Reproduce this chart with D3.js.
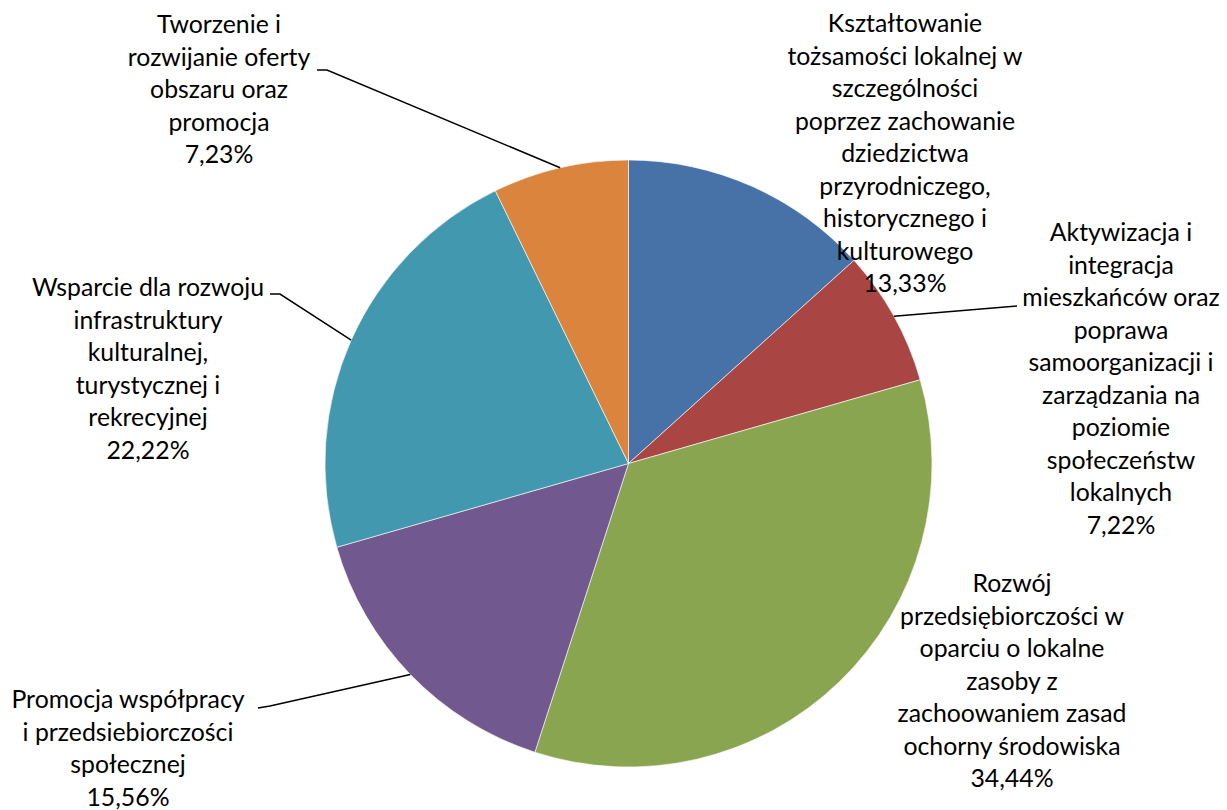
<!DOCTYPE html>
<html>
<head>
<meta charset="utf-8">
<script src="https://cdn.jsdelivr.net/npm/d3@7"></script>
<style>
  body { margin: 0; background: #fff; }
  text { font-family: Lato, "Open Sans", sans-serif; fill: #000; }
</style>
</head>
<body>
<div id="chart"></div>
<script>
// data
var categories = [
  "Kształtowanie tożsamości lokalnej w szczególności poprzez zachowanie dziedzictwa przyrodniczego, historycznego i kulturowego",
  "Aktywizacja i integracja mieszkańców oraz poprawa samoorganizacji i zarządzania na poziomie społeczeństw lokalnych",
  "Rozwój przedsiębiorczości w oparciu o lokalne zasoby z zachoowaniem zasad ochorny środowiska",
  "Promocja współpracy i przedsiebiorczości społecznej",
  "Wsparcie dla rozwoju infrastruktury kulturalnej, turystycznej i rekrecyjnej",
  "Tworzenie i rozwijanie oferty obszaru oraz promocja"
];
var values = [13.33, 7.22, 34.44, 15.56, 22.22, 7.23];
var valueLabels = ["13,33%", "7,22%", "34,44%", "15,56%", "22,22%", "7,23%"];
// label text as wrapped in the chart
var labelLines = [
  ["Kształtowanie", "tożsamości lokalnej w", "szczególności", "poprzez zachowanie", "dziedzictwa", "przyrodniczego,", "historycznego i", "kulturowego"],
  ["Aktywizacja i", "integracja", "mieszkańców oraz", "poprawa", "samoorganizacji i", "zarządzania na", "poziomie", "społeczeństw", "lokalnych"],
  ["Rozwój", "przedsiębiorczości w", "oparciu o lokalne", "zasoby z", "zachoowaniem zasad", "ochorny środowiska"],
  ["Promocja współpracy", "i przedsiebiorczości", "społecznej"],
  ["Wsparcie dla rozwoju", "infrastruktury", "kulturalnej,", "turystycznej i", "rekrecyjnej"],
  ["Tworzenie i", "rozwijanie oferty", "obszaru oraz", "promocja"]
];
var colors = ["#4672A7", "#A94643", "#8AA54F", "#71598F", "#4298AF", "#DA843E"];

// layout
var svgWidth = 1227, svgHeight = 810;
var cx = 628.5, cy = 463.5, radius = 303.5;
var lineH = 32.5, fontSize = 24.8;
// label block centre x and first line centre y
var labelPos = [
  {x: 905, y: 24},
  {x: 1121, y: 233},
  {x: 1012, y: 584},
  {x: 128, y: 700},
  {x: 148, y: 288},
  {x: 219, y: 25}
];
// leader lines: elbow and end points (null = no leader)
var leaders = [
  null,
  [[1017, 306]],
  null,
  [[270, 706], [258, 708]],
  [[280, 294], [270, 294]],
  [[327, 70], [317, 70]]
];

var svg = d3.select("#chart")
  .append("svg")
  .attr("width", svgWidth)
  .attr("height", svgHeight);

var pie = d3.pie().sort(null).value(d => d);
var arcs = pie(values);

var arc = d3.arc().innerRadius(0).outerRadius(radius);

var pieGroup = svg.append("g")
  .attr("transform", `translate(${cx},${cy})`);

pieGroup.selectAll("path")
  .data(arcs)
  .enter()
  .append("path")
  .attr("d", arc)
  .attr("fill", (d, i) => colors[i])
  .attr("stroke", "#fff")
  .attr("stroke-width", 0.6);

// leader lines from the outer edge at the slice mid angle
var line = d3.line();
arcs.forEach(function(d, i) {
  if (!leaders[i]) return;
  var a = (d.startAngle + d.endAngle) / 2;
  var start = [cx + radius * Math.sin(a), cy - radius * Math.cos(a)];
  svg.append("path")
    .attr("d", line([start].concat(leaders[i])))
    .attr("fill", "none")
    .attr("stroke", "#000")
    .attr("stroke-width", 1.5);
});

// labels
var labels = svg.selectAll("text.lbl")
  .data(arcs)
  .enter()
  .append("text")
  .attr("class", "lbl")
  .attr("text-anchor", "middle")
  .attr("font-size", fontSize + "px");

labels.each(function(d, i) {
  var t = d3.select(this);
  var lines = labelLines[i].concat([valueLabels[i]]);
  lines.forEach(function(s, k) {
    t.append("tspan")
      .attr("x", labelPos[i].x)
      .attr("y", labelPos[i].y + k * lineH + 8)
      .text(s);
  });
});
</script>
</body>
</html>
